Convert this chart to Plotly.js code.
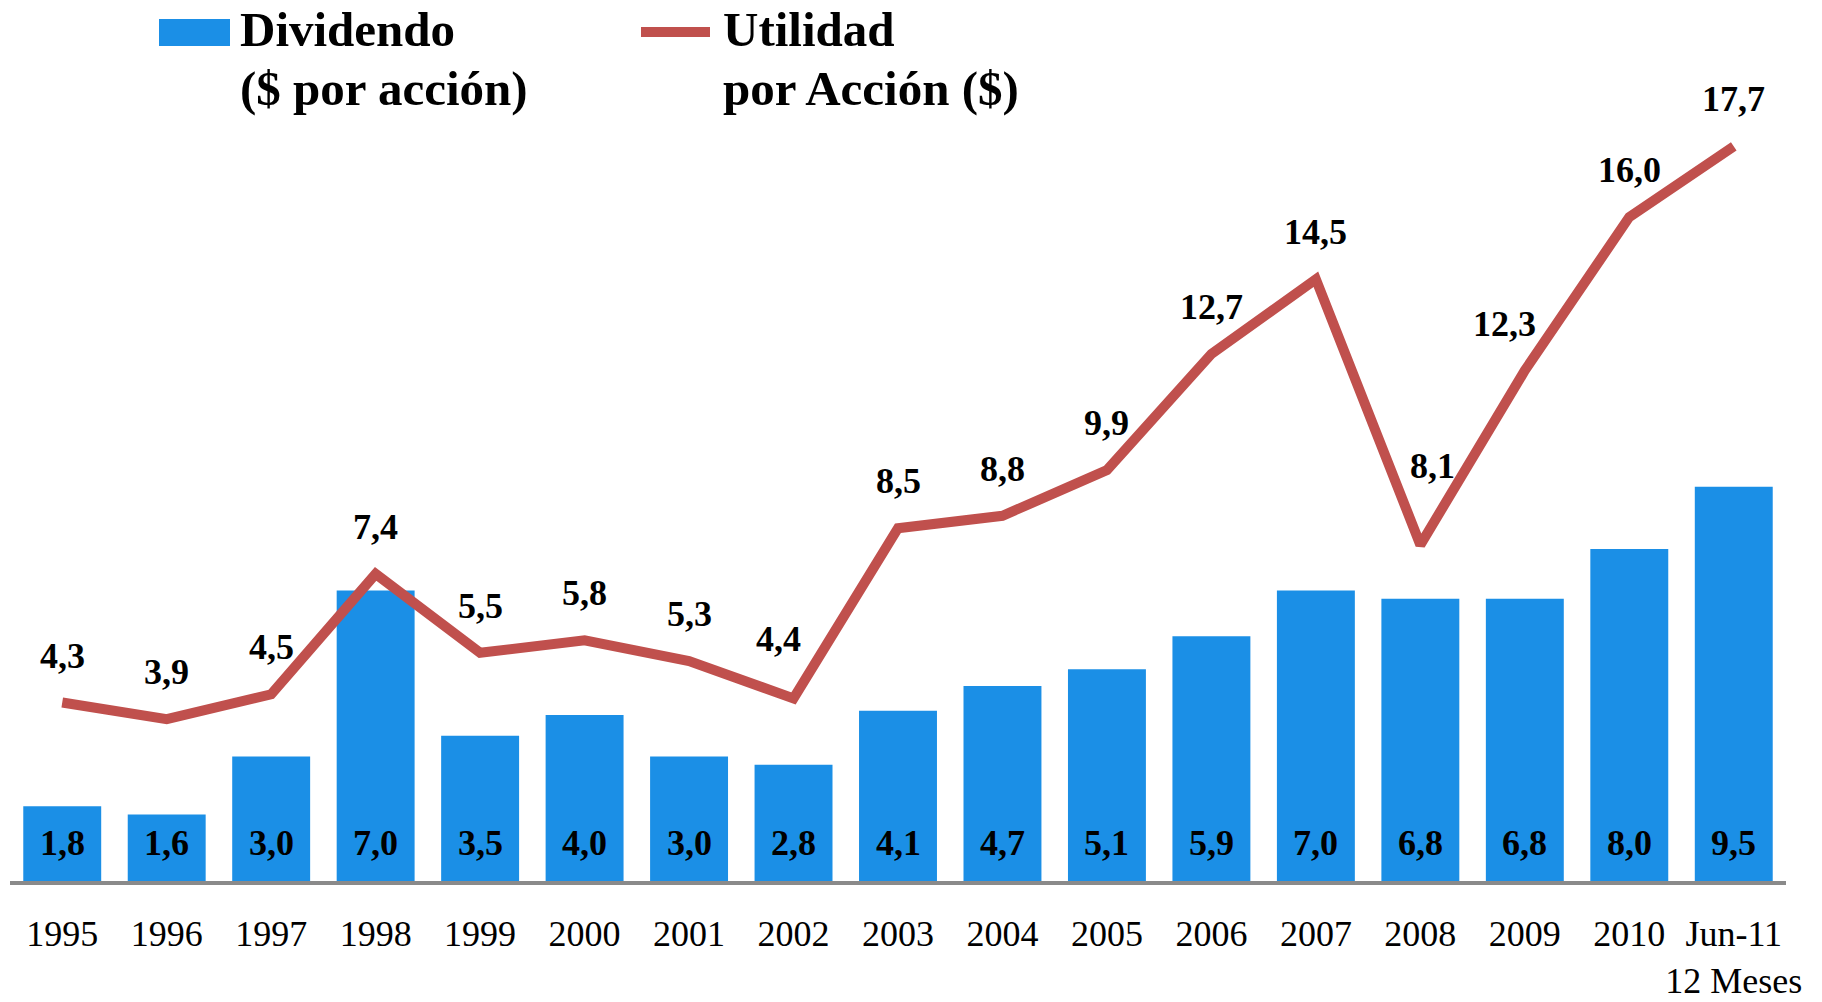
<!DOCTYPE html>
<html>
<head>
<meta charset="utf-8">
<script src="https://cdn.plot.ly/plotly-3.0.1.min.js"></script>
<style>
  html, body { margin: 0; padding: 0; background: #ffffff; }
  #chart { width: 1822px; height: 1002px; }
</style>
</head>
<body>
<div id="chart"></div>
<script>
// ---- Data ----
const categories = ["1995","1996","1997","1998","1999","2000","2001","2002","2003","2004","2005","2006","2007","2008","2009","2010","Jun-11<br>12 Meses"];
const dividendo = [1.8, 1.6, 3.0, 7.0, 3.5, 4.0, 3.0, 2.8, 4.1, 4.7, 5.1, 5.9, 7.0, 6.8, 6.8, 8.0, 9.5];
const utilidad  = [4.3, 3.9, 4.5, 7.4, 5.5, 5.8, 5.3, 4.4, 8.5, 8.8, 9.9, 12.7, 14.5, 8.1, 12.3, 16.0, 17.7];
const legendDividendo = ["Dividendo", "($ por acción)"];
const legendUtilidad  = ["Utilidad", "por Acción ($)"];

// ---- Styles ----
const FONT = '"Liberation Serif", "Times New Roman", serif';
const BLUE = '#1B8FE6';
const RED = '#C0504D';
const W = 1822, H = 1002;
const M = { l: 10, r: 36, t: 51, b: 121 };
// label offset tweaks (pixels) for a few crowded line labels
const lineLabelTweak = { 7: { dx: -15, dy: 59 }, 13: { dx: 12, dy: 79 }, 14: { dx: -20, dy: 47 } };

const fmt = v => v.toFixed(1).replace('.', ',');
const px2x = px => (px - M.l) / (W - M.l - M.r);
const px2y = py => (H - M.b - py) / (H - M.t - M.b);

const traces = [
  {
    type: 'bar', x: categories, y: dividendo, name: 'Dividendo ($ por acción)',
    marker: { color: BLUE }, hoverinfo: 'skip', showlegend: false
  },
  {
    type: 'scatter', mode: 'lines', x: categories, y: utilidad, name: 'Utilidad por Acción ($)',
    line: { color: RED, width: 10 }, hoverinfo: 'skip', showlegend: false
  }
];

const annotations = [];
dividendo.forEach((v, i) => {
  annotations.push({
    x: i, y: 0, xref: 'x', yref: 'y', text: '<b>' + fmt(v) + '</b>', showarrow: false,
    yanchor: 'middle', xanchor: 'center', yshift: 38,
    font: { family: FONT, size: 36, color: '#000' }
  });
});
utilidad.forEach((v, i) => {
  const t = lineLabelTweak[i] || { dx: 0, dy: 47 };
  annotations.push({
    x: i, y: v, xref: 'x', yref: 'y', text: '<b>' + fmt(v) + '</b>', showarrow: false,
    yanchor: 'middle', xanchor: 'center', yshift: t.dy, xshift: t.dx,
    font: { family: FONT, size: 36, color: '#000' }
  });
});
// custom legend text
const legFont = { family: FONT, size: 49, color: '#000' };
[[legendDividendo, 238], [legendUtilidad, 721]].forEach(([lines, xpx]) => {
  annotations.push({ x: px2x(xpx), y: px2y(29), xref: 'paper', yref: 'paper', text: '<b>' + lines[0] + '</b>',
    showarrow: false, xanchor: 'left', yanchor: 'middle', font: legFont });
  annotations.push({ x: px2x(xpx), y: px2y(88), xref: 'paper', yref: 'paper', text: '<b>' + lines[1] + '</b>',
    showarrow: false, xanchor: 'left', yanchor: 'middle', font: legFont });
});

const shapes = [
  { type: 'rect', xref: 'paper', yref: 'paper', x0: px2x(159), x1: px2x(230), y0: px2y(46), y1: px2y(19),
    fillcolor: BLUE, line: { width: 0 } },
  { type: 'line', xref: 'paper', yref: 'paper', x0: px2x(641), x1: px2x(710), y0: px2y(32), y1: px2y(32),
    line: { color: RED, width: 10 } }
];

const layout = {
  width: W, height: H,
  margin: M,
  paper_bgcolor: '#ffffff', plot_bgcolor: '#ffffff',
  bargap: 0.254,
  showlegend: false,
  font: { family: FONT, size: 36, color: '#000' },
  xaxis: {
    type: 'category', showgrid: false, zeroline: false,
    showline: true, linecolor: '#8A8A8A', linewidth: 3.5,
    ticks: '', ticklabelstandoff: 18, tickangle: 0, automargin: false,
    tickfont: { family: FONT, size: 36, color: '#000' }
  },
  yaxis: {
    range: [0, 20], showgrid: false, zeroline: false, showline: false,
    showticklabels: false, ticks: ''
  },
  annotations: annotations,
  shapes: shapes
};

Plotly.newPlot('chart', traces, layout, { displayModeBar: false, staticPlot: true });
</script>
</body>
</html>
